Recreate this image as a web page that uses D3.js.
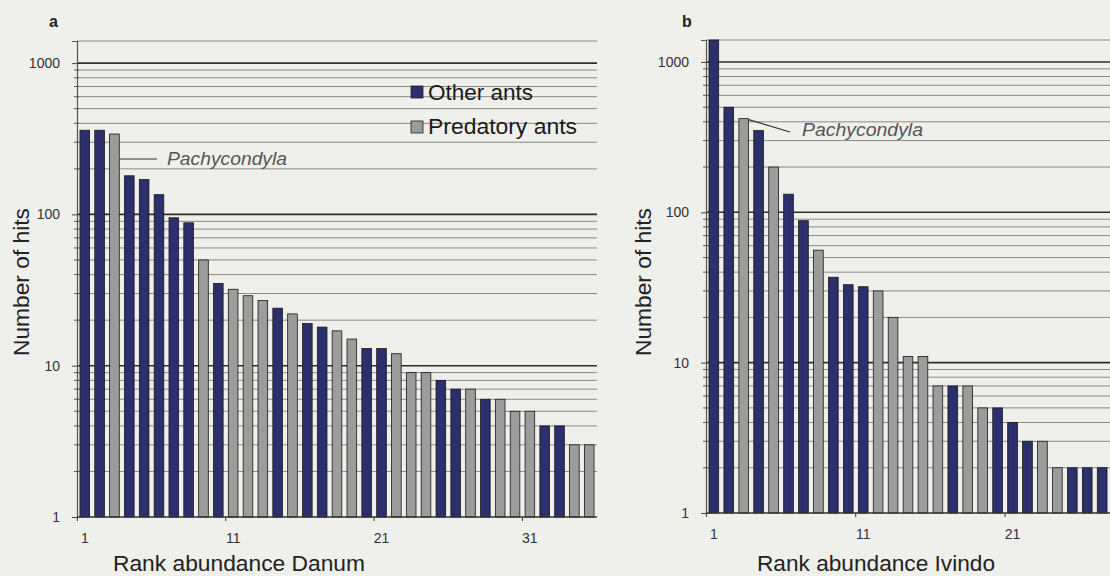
<!DOCTYPE html>
<html><head><meta charset="utf-8">
<script src="https://cdn.jsdelivr.net/npm/d3@7"></script>
<style>
html,body{margin:0;padding:0;background:#efefeb;}
svg{display:block;font-family:"Liberation Sans",Arial,sans-serif;}
</style></head>
<body><svg id="c" width="1110" height="576"></svg>
<script>
// ---- data ----
const ranksDanum = [1,2,3,4,5,6,7,8,9,10,11,12,13,14,15,16,17,18,19,20,21,22,23,24,25,26,27,28,29,30,31,32,33,34,35];
const hitsDanum = [360,360,340,180,170,135,95,88,50,35,32,29,27,24,22,19,18,17,15,13,13,12,9,9,8,7,7,6,6,5,5,4,4,3,3];
const groupDanum = ["O","O","P","O","O","O","O","O","P","O","P","P","P","O","P","O","O","P","P","O","O","P","P","P","O","O","P","O","P","P","P","O","O","P","P"];
const ranksIvindo = [1,2,3,4,5,6,7,8,9,10,11,12,13,14,15,16,17,18,19,20,21,22,23,24,25,26,27];
const hitsIvindo = [1400,500,420,350,200,132,88,56,37,33,32,30,20,11,11,7,7,7,5,5,4,3,3,2,2,2,2];
const groupIvindo = ["O","O","P","O","P","O","O","P","O","O","O","P","P","P","P","P","O","P","P","O","O","O","P","P","O","O","O"];
const xTicksDanum = [1,11,21,31];
const xTicksIvindo = [1,11,21];
const yTicks = [1,10,100,1000];
const legendLabels = ["Other ants","Predatory ants"];
const groupKeys = ["O","P"];
const yMax = 1400;

const colors = {O:"#2b2f6b", P:"#9c9c9c"};
const svg = d3.select("#c");

function panel(cfg){
  const g = svg.append("g");
  const x = d3.scaleBand().domain(cfg.ranks).range([cfg.x0, cfg.x1]).paddingInner(0.35).paddingOuter(0.2);
  const y = d3.scaleLog().domain([1, yMax]).range([cfg.yb, cfg.yt]).clamp(true);
  // minor gridlines
  const minor = [];
  [1,10,100,1000].forEach(d=>{ for(let m=2;m<=9;m++){ if(m*d<yMax) minor.push(m*d);} });
  g.selectAll("line.minor").data(minor).enter().append("line")
    .attr("x1",cfg.x0).attr("x2",cfg.x1).attr("y1",d=>y(d)).attr("y2",d=>y(d))
    .attr("stroke","#8a8a88").attr("stroke-width",1);
  g.selectAll("line.major").data([10,100,1000]).enter().append("line")
    .attr("x1",cfg.x0).attr("x2",cfg.x1).attr("y1",d=>y(d)).attr("y2",d=>y(d))
    .attr("stroke","#2e2e2e").attr("stroke-width",1.6);
  // top line
  g.append("line").attr("x1",cfg.x0).attr("x2",cfg.x1).attr("y1",y(yMax)).attr("y2",y(yMax))
    .attr("stroke","#8a8a88").attr("stroke-width",1);
  // bars
  g.selectAll("rect.bar").data(cfg.ranks).enter().append("rect")
    .attr("x",(d)=>x(d)).attr("width",x.bandwidth())
    .attr("y",(d,i)=>y(cfg.hits[i])).attr("height",(d,i)=>cfg.yb - y(cfg.hits[i]))
    .attr("fill",(d,i)=>colors[cfg.group[i]]).attr("stroke","#1a1a1a").attr("stroke-width",0.8);
  // y axis
  const ya = d3.axisLeft(y).tickValues(yTicks).tickFormat(d3.format("d")).tickSize(5).tickPadding(12);
  const yg = g.append("g").attr("transform",`translate(${cfg.x0},0)`).call(ya);
  yg.select(".domain").attr("stroke","#555").attr("stroke-width",1.2);
  yg.selectAll(".tick line").attr("stroke","#444");
  yg.selectAll(".tick text").attr("font-size",14).attr("fill","#333");
  g.selectAll("line.ymin").data(minor).enter().append("line")
    .attr("x1",cfg.x0-3).attr("x2",cfg.x0+2).attr("y1",d=>y(d)).attr("y2",d=>y(d))
    .attr("stroke","#555").attr("stroke-width",1);
  // x axis
  const xa = d3.axisBottom(x).tickValues(cfg.xticks).tickSize(0).tickPadding(16);
  const xg = g.append("g").attr("transform",`translate(0,${cfg.yb})`).call(xa);
  xg.select(".domain").remove();
  xg.selectAll(".tick text").attr("font-size",14).attr("fill","#333");
  g.append("line").attr("x1",cfg.x0).attr("x2",cfg.x1).attr("y1",cfg.yb).attr("y2",cfg.yb)
    .attr("stroke","#333").attr("stroke-width",1.6);
  g.selectAll("line.xt").data(cfg.xticks).enter().append("line")
    .attr("x1",d=>x(d)-x.step()*x.paddingInner()/2).attr("x2",d=>x(d)-x.step()*x.paddingInner()/2)
    .attr("y1",cfg.yb).attr("y2",cfg.yb+4).attr("stroke","#333");
  // titles
  g.append("text").attr("x",cfg.xtx).attr("y",571).attr("text-anchor","middle")
    .attr("font-size",22).attr("fill","#222").attr("textLength",cfg.xtw).attr("lengthAdjust","spacingAndGlyphs")
    .text(cfg.xtitle);
  g.append("text").attr("transform",`translate(${cfg.ytx},282) rotate(-90)`).attr("text-anchor","middle")
    .attr("dy","0.35em").attr("font-size",22).attr("fill","#222").attr("textLength",148).attr("lengthAdjust","spacingAndGlyphs")
    .text("Number of hits");
  g.append("text").attr("x",cfg.lx).attr("y",cfg.ly).attr("font-size",16).attr("font-weight","bold").attr("fill","#222").text(cfg.label);
  // annotation
  const ai = cfg.ranks.indexOf(3);
  const bx = x(3) + x.bandwidth();
  const by = y(cfg.hits[ai]);
  g.append("line").attr("x1",bx).attr("y1",by+cfg.ann.dy0).attr("x2",cfg.ann.x2).attr("y2",cfg.ann.y2)
    .attr("stroke","#333").attr("stroke-width",1.2);
  g.append("text").attr("x",cfg.ann.tx).attr("y",cfg.ann.ty).attr("font-size",18).attr("font-style","italic")
    .attr("fill","#555").attr("textLength",cfg.ann.tw).attr("lengthAdjust","spacingAndGlyphs").text("Pachycondyla");
  return g;
}

panel({ranks:ranksDanum,hits:hitsDanum,group:groupDanum,x0:77,x1:597,yb:517,yt:41,xticks:xTicksDanum,
  xtitle:"Rank abundance Danum",xtx:239,xtw:252,ytx:21,label:"a",lx:49,ly:27,
  ann:{dy0:25,x2:157,y2:159,tx:167,ty:165,tw:120}});
panel({ranks:ranksIvindo,hits:hitsIvindo,group:groupIvindo,x0:706,x1:1110,yb:513,yt:40,xticks:xTicksIvindo,
  xtitle:"Rank abundance Ivindo",xtx:876,xtw:238,ytx:643,label:"b",lx:682,ly:27,
  ann:{dy0:1,x2:790,y2:132,tx:802,ty:136,tw:121}});

// legend
const lg = svg.append("g");
lg.selectAll("rect").data(groupKeys).enter().append("rect")
  .attr("x",411).attr("y",(d,i)=>86+i*35).attr("width",12).attr("height",12)
  .attr("fill",d=>colors[d]).attr("stroke","#222").attr("stroke-width",0.8);
lg.selectAll("text").data(legendLabels).enter().append("text")
  .attr("x",428).attr("y",(d,i)=>100+i*34).attr("font-size",22).attr("fill","#1a1a1a")
  .attr("textLength",(d,i)=>i===0?105:149).attr("lengthAdjust","spacingAndGlyphs").text(d=>d);
</script></body></html>
